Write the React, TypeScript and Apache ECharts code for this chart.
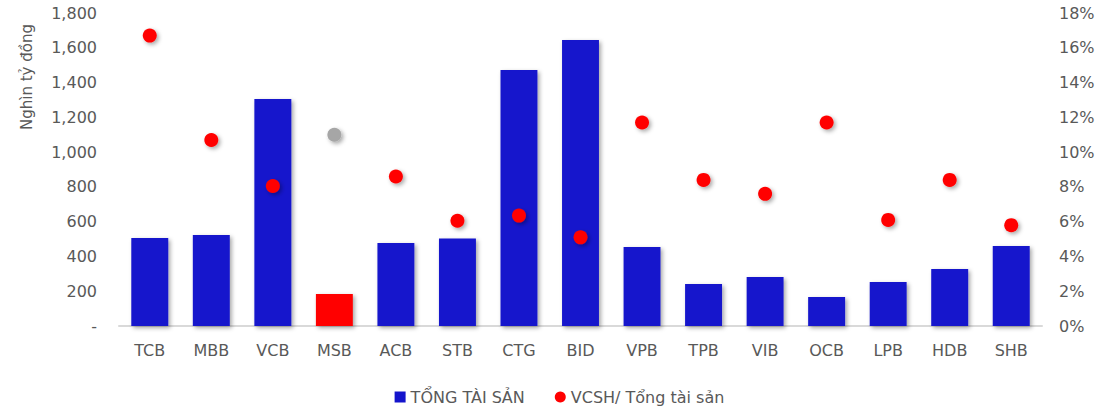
import React, { useEffect, useRef } from "react";
import * as echarts from "echarts";

const categories = ["TCB", "MBB", "VCB", "MSB", "ACB", "STB", "CTG", "BID", "VPB", "TPB", "VIB", "OCB", "LPB", "HDB", "SHB"];
const totalAssets = [506, 523, 1305, 184, 477, 503, 1472, 1645, 454, 241, 282, 167, 253, 328, 460];
const equityRatio = [16.7, 10.7, 8.05, 11.0, 8.6, 6.05, 6.35, 5.1, 11.7, 8.4, 7.6, 11.7, 6.1, 8.4, 5.8];
const leftTicks = { min: 0, max: 1800, interval: 200 };
const rightTicks = { min: 0, max: 18, interval: 2 };
const highlightCategory = "MSB";

const BLUE = "#1414CC";
const RED = "#FF0000";
const GRAY = "#A6A6A6";
const TEXT = "#595959";
const FONT = "DejaVu Sans";

export default function App() {
  const ref = useRef<HTMLDivElement>(null);
  useEffect(() => {
    if (!ref.current) return;
    const chart = echarts.init(ref.current, null, { renderer: "svg" });
    const shadow = {
      shadowColor: "rgba(0,0,0,0.35)",
      shadowBlur: 4,
      shadowOffsetX: 2,
      shadowOffsetY: 2,
    };
    chart.setOption({
      animation: false,
      backgroundColor: "#FFFFFF",
      textStyle: { fontFamily: FONT },
      grid: { left: 119, right: 77, top: 13, bottom: 88 },
      legend: {
        bottom: 4,
        left: "center",
        itemWidth: 11,
        itemHeight: 11,
        itemGap: 30,
        textStyle: { color: TEXT, fontSize: 16, fontFamily: FONT },
        data: [
          { name: "TỔNG TÀI SẢN", icon: "rect", itemStyle: { color: BLUE } },
          { name: "VCSH/ Tổng tài sản", icon: "circle", itemStyle: { color: RED } },
        ],
      },
      graphic: [
        {
          type: "text",
          x: 27,
          y: 77,
          rotation: Math.PI / 2,
          style: {
            text: "Nghìn tỷ đồng",
            fill: TEXT,
            font: `15px "${FONT}"`,
            align: "center",
            verticalAlign: "middle",
          },
        },
      ],
      xAxis: {
        type: "category",
        data: categories,
        axisLine: { show: true, lineStyle: { color: "#D9D9D9", width: 2 } },
        axisTick: { show: false },
        axisLabel: { color: TEXT, fontSize: 16, margin: 16, fontFamily: FONT },
      },
      yAxis: [
        {
          type: "value",
          min: leftTicks.min,
          max: leftTicks.max,
          interval: leftTicks.interval,
          splitLine: { show: false },
          axisLine: { show: false },
          axisTick: { show: false },
          axisLabel: {
            color: TEXT,
            fontSize: 16,
            margin: 22,
            fontFamily: FONT,
            formatter: (v: number) => (v === 0 ? "-" : v.toLocaleString("en-US")),
          },
        },
        {
          type: "value",
          min: rightTicks.min,
          max: rightTicks.max,
          interval: rightTicks.interval,
          splitLine: { show: false },
          axisLine: { show: false },
          axisTick: { show: false },
          axisLabel: {
            color: TEXT,
            fontSize: 16,
            margin: 17,
            fontFamily: FONT,
            formatter: (v: number) => `${v}%`,
          },
        },
      ],
      series: [
        {
          name: "TỔNG TÀI SẢN",
          type: "bar",
          yAxisIndex: 0,
          barWidth: "60%",
          data: totalAssets.map((v, i) =>
            categories[i] === highlightCategory
              ? { value: v, itemStyle: { color: RED } }
              : v
          ),
          itemStyle: { color: BLUE, ...shadow },
        },
        {
          name: "VCSH/ Tổng tài sản",
          type: "scatter",
          yAxisIndex: 1,
          symbol: "circle",
          symbolSize: 14,
          data: equityRatio.map((v, i) =>
            categories[i] === highlightCategory
              ? { value: v, itemStyle: { color: GRAY } }
              : v
          ),
          itemStyle: { color: RED, opacity: 1, ...shadow },
          z: 3,
        },
      ],
    });
    return () => chart.dispose();
  }, []);
  return <div ref={ref} style={{ width: 1119, height: 414, position: "absolute", left: 0, top: 0 }} />;
}
